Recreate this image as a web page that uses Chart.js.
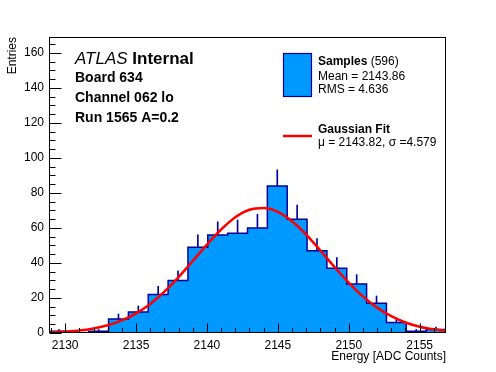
<!DOCTYPE html>
<html>
<head>
<meta charset="utf-8">
<script src="https://cdn.jsdelivr.net/npm/chart.js@4.4.0/dist/chart.umd.min.js"></script>
<style>
  html, body { margin: 0; padding: 0; background: #fff; }
</style>
</head>
<body>
<canvas id="myChart" width="496" height="372"></canvas>
<script>
// Histogram binning (20 bins)
const xMin = 2128.86;
const xMax = 2156.86;
const binWidth = 1.4;

// Entries per bin
const binCounts = [1, 0, 1, 8, 12, 22, 30, 49, 56, 57, 60, 84, 65, 47, 37, 28, 17, 6, 1, 2];

// Gaussian fit curve
const fitX = [2128, 2129, 2130, 2131, 2132, 2133, 2134, 2135, 2136, 2137, 2138, 2139, 2140, 2141, 2142,
              2143, 2144, 2145, 2146, 2147, 2148, 2149, 2150, 2151, 2152, 2153, 2154, 2155, 2156, 2157];
const fitY = [0.2, 0.4, 0.8, 1.4, 2.6, 4.4, 7.2, 11.2, 16.6, 23.6, 31.9, 41.1, 50.5, 59.1, 66.1,
              70.4, 71.4, 69.2, 63.8, 56.2, 47.1, 37.7, 28.8, 20.9, 14.5, 9.6, 6.0, 3.6, 2.1, 1.1];

// Axis ticks
const xTicks = [2130, 2135, 2140, 2145, 2150, 2155];
const yTicks = [0, 20, 40, 60, 80, 100, 120, 140, 160];
const yMax = 169;

// Legend / label text
const infoLines = ['Board 634', 'Channel 062 lo', 'Run 1565 A=0.2'];
const sampleCount = 596;
const sampleStats = ['Mean = 2143.86', 'RMS = 4.636'];
const fitStats = 'μ = 2143.82, σ =4.579';

const FONT = '"Liberation Sans", Arial, Helvetica, sans-serif';
const fillBlue = '#0099ff';
const navy = '#000099';

// build datasets from the arrays
const histData = binCounts.map((c, i) => ({ x: xMin + i * binWidth, y: c }));
histData.push({ x: xMin + binCounts.length * binWidth, y: binCounts[binCounts.length - 1] });

const errData = binCounts.map((c, i) => ({ x: xMin + (i + 0.5) * binWidth, y: [c, c + Math.sqrt(c)] }));

const fitData = fitX.map((x, i) => ({ x: x, y: fitY[i] }));

// ROOT-style frame, inward ticks and text boxes
const rootStyle = {
    id: 'rootStyle',
    afterDraw(chart) {
        const ctx = chart.ctx;
        const a = chart.chartArea;
        const xs = chart.scales.x;
        const ys = chart.scales.y;
        ctx.save();
        ctx.strokeStyle = '#000';
        ctx.lineWidth = 1;

        const L = Math.round(a.left) + 0.5;
        const R = Math.round(a.right) - 0.5;
        const T = Math.round(a.top) + 0.5;
        const B = Math.round(a.bottom) - 0.5;
        ctx.strokeRect(L, T, R - L, B - T);

        ctx.beginPath();
        // x ticks, pointing up into the frame
        for (let v = Math.ceil(xMin); v <= xMax; v++) {
            const px = Math.round(xs.getPixelForValue(v)) + 0.5;
            const len = v % 5 === 0 ? 9 : 4.5;
            ctx.moveTo(px, B);
            ctx.lineTo(px, B - len);
        }
        // y ticks, pointing right into the frame
        for (let v = 0; v <= yMax; v += 5) {
            const py = Math.round(ys.getPixelForValue(v)) + 0.5;
            const len = v % 20 === 0 ? 12 : 6;
            ctx.moveTo(L, py);
            ctx.lineTo(L + len, py);
        }
        ctx.stroke();

        // ATLAS label
        ctx.fillStyle = '#000';
        ctx.textBaseline = 'alphabetic';
        ctx.textAlign = 'left';
        ctx.font = 'italic 17px ' + FONT;
        ctx.fillText('ATLAS', 75, 64);
        const w1 = ctx.measureText('ATLAS ').width;
        ctx.font = 'bold 17px ' + FONT;
        ctx.fillText('Internal', 75 + w1, 64);

        ctx.font = 'bold 14px ' + FONT;
        infoLines.forEach((t, i) => ctx.fillText(t, 75, 82 + i * 20));

        // legend: samples
        ctx.fillStyle = fillBlue;
        ctx.fillRect(283, 53, 29, 44);
        ctx.strokeStyle = navy;
        ctx.lineWidth = 1.2;
        ctx.strokeRect(283.5, 53.5, 28, 43);

        ctx.fillStyle = '#000';
        ctx.font = 'bold 12px ' + FONT;
        ctx.fillText('Samples', 318, 65);
        const w2 = ctx.measureText('Samples ').width;
        ctx.font = '12px ' + FONT;
        ctx.fillText('(' + sampleCount + ')', 318 + w2, 65);
        sampleStats.forEach((t, i) => ctx.fillText(t, 318, 80 + i * 13));

        // legend: fit
        ctx.strokeStyle = '#ff0000';
        ctx.lineWidth = 2.5;
        ctx.beginPath();
        ctx.moveTo(283, 136);
        ctx.lineTo(312, 136);
        ctx.stroke();

        ctx.font = 'bold 12px ' + FONT;
        ctx.fillText('Gaussian Fit', 318, 133);
        ctx.font = '12px ' + FONT;
        ctx.fillText(fitStats, 318, 146);

        ctx.restore();
    }
};

const ctx = document.getElementById('myChart').getContext('2d');
const myChart = new Chart(ctx, {
    type: 'line',
    data: {
        datasets: [
            {
                label: 'Gaussian Fit',
                data: fitData,
                borderColor: '#ff0000',
                borderWidth: 2.5,
                pointRadius: 0,
                fill: false,
                tension: 0.4,
                cubicInterpolationMode: 'monotone',
                order: 0
            },
            {
                type: 'bar',
                label: 'Errors',
                data: errData,
                backgroundColor: navy,
                borderWidth: 0,
                barThickness: 1,
                order: 1
            },
            {
                label: 'Samples',
                data: histData,
                stepped: 'before',
                fill: 'origin',
                backgroundColor: fillBlue,
                borderColor: navy,
                borderWidth: 1.5,
                pointRadius: 0,
                order: 2
            }
        ]
    },
    options: {
        responsive: false,
        animation: false,
        devicePixelRatio: 1,
        layout: { padding: { top: 37, right: 50, left: 0, bottom: 0 } },
        plugins: {
            legend: { display: false },
            tooltip: { enabled: false }
        },
        scales: {
            x: {
                type: 'linear',
                min: xMin,
                max: xMax,
                offset: false,
                grid: { display: false, drawTicks: false },
                border: { display: false },
                ticks: {
                    color: '#000',
                    font: { family: FONT, size: 12 },
                    padding: 5,
                    autoSkip: false,
                    maxRotation: 0,
                    callback: v => String(v)
                },
                afterBuildTicks: s => { s.ticks = xTicks.map(v => ({ value: v })); },
                afterFit: s => { s.height = 39; },
                title: {
                    display: true,
                    text: 'Energy [ADC Counts]',
                    align: 'end',
                    color: '#000',
                    font: { family: FONT, size: 12 },
                    padding: { top: 0, bottom: 8 }
                }
            },
            y: {
                type: 'linear',
                min: 0,
                max: yMax,
                grid: { display: false, drawTicks: false },
                border: { display: false },
                ticks: {
                    color: '#000',
                    font: { family: FONT, size: 12 },
                    padding: 5,
                    callback: v => String(v)
                },
                afterBuildTicks: s => { s.ticks = yTicks.map(v => ({ value: v })); },
                afterFit: s => { s.width = 49; },
                title: {
                    display: true,
                    text: 'Entries',
                    align: 'end',
                    color: '#000',
                    font: { family: FONT, size: 12 },
                    padding: { top: 5, bottom: 0 }
                }
            }
        }
    },
    plugins: [rootStyle]
});
</script>
</body>
</html>
